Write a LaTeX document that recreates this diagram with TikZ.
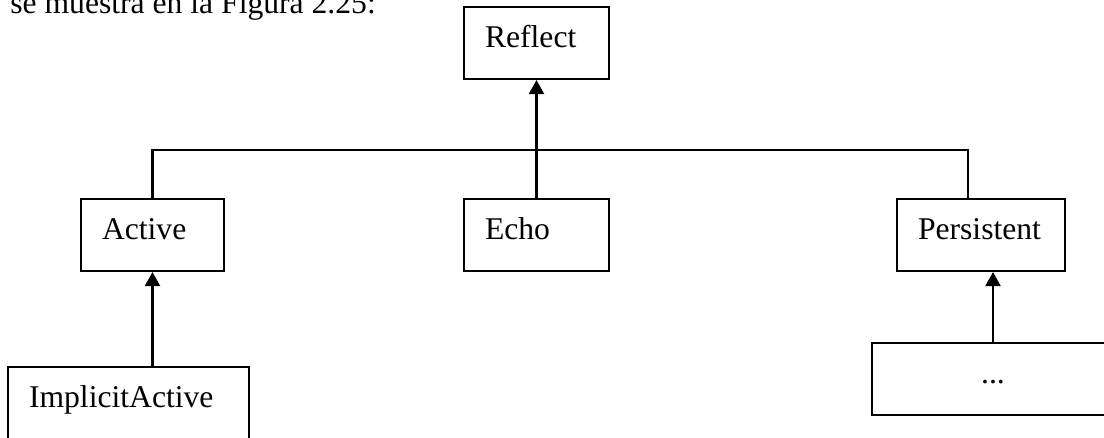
\documentclass[tikz,border=0pt]{standalone}
\usepackage{fontspec}
\setmainfont{Liberation Serif}
\usepackage{tikz}
\usetikzlibrary{arrows.meta}

\begin{document}
\begin{tikzpicture}[font=\fontsize{18}{22}\selectfont,
    cls/.style={draw,rectangle,line width=1.2pt,inner xsep=0.42cm,inner ysep=0pt,
      text height=0.8cm,text depth=0.64cm,align=left,text width=#1},
    link/.style={line width=1.2pt},
    inherit/.style={line width=1.2pt,-{Triangle[width=0.3cm,length=0.28cm]}}]
      \useasboundingbox (0,0) rectangle (22.08,-8.74);
      \clip (0,0) rectangle (22.08,-8.74);
      \node[anchor=base west,inner sep=0pt](intro) at (0.2,-0.26){se muestra en la Figura 2.25:};
      \node[cls=2.06cm](reflect) at (10.73,-0.86){Reflect};
      \node[cls=2.02cm](active) at (3.05,-4.70){Active};
      \node[cls=2.06cm](echo) at (10.73,-4.70){Echo};
      \node[cls=2.52cm](persistent) at (19.62,-4.70){Persistent};
      \node[cls=3.98cm](implicit) at (2.57,-8.06){ImplicitActive};
      \node[cls=4.0cm,align=center](more) at (19.86,-7.58){...};
      \draw[inherit] (echo.north) -- (reflect.south);
      \draw[link] (active.north) -- ++(0,0.96) -| ([xshift=-0.26cm]persistent.north);
      \draw[inherit] (implicit.north -| active.south) -- (active.south);
      \draw[inherit] (more.north) -- (more.north |- persistent.south);
    \end{tikzpicture}
\end{document}
